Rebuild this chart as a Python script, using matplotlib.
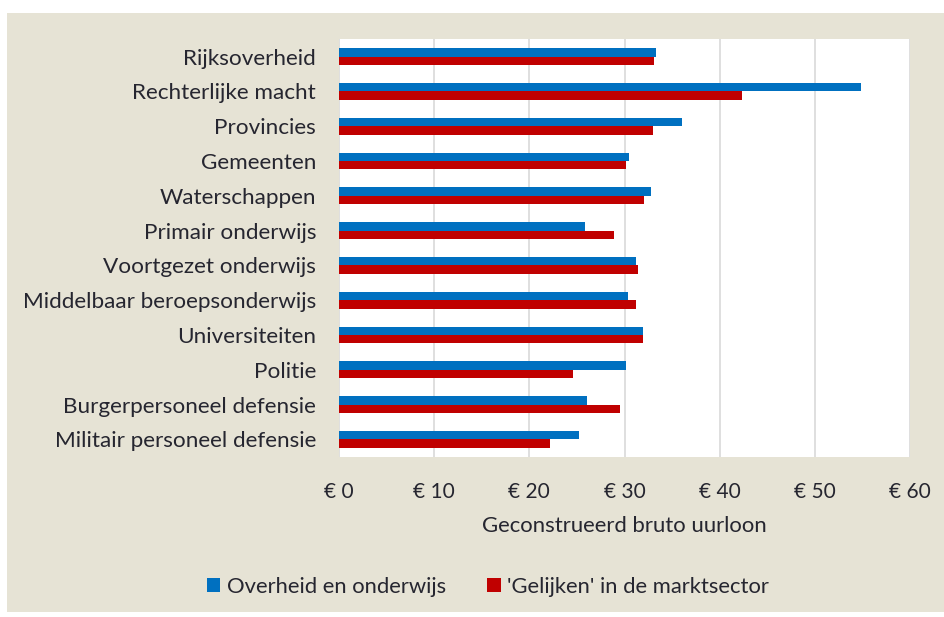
import matplotlib
matplotlib.use("Agg")
import matplotlib.pyplot as plt
from matplotlib.patches import Rectangle, Patch
import numpy as np

categories = ["Rijksoverheid", "Rechterlijke macht", "Provincies", "Gemeenten",
              "Waterschappen", "Primair onderwijs", "Voortgezet onderwijs",
              "Middelbaar beroepsonderwijs", "Universiteiten", "Politie",
              "Burgerpersoneel defensie", "Militair personeel defensie"]
overheid = [33.3, 54.9, 36.0, 30.5, 32.8, 25.8, 31.2, 30.4, 31.9, 30.2, 26.1, 25.2]
markt = [33.1, 42.3, 33.0, 30.2, 32.1, 28.9, 31.4, 31.2, 31.9, 24.6, 29.5, 22.2]
xticks = [0, 10, 20, 30, 40, 50, 60]
xticklabels = ["€ 0", "€ 10", "€ 20", "€ 30", "€ 40", "€ 50", "€ 60"]
series_names = ["Overheid en onderwijs", "'Gelijken' in de marktsector"]
xlabel = "Geconstrueerd bruto uurloon"

BLUE = "#0070C0"
RED = "#C00000"
BEIGE = "#E6E3D5"
TXT = "#262630"
FONT = ["Lato", "DejaVu Sans"]

plt.rcParams["font.family"] = FONT

fig = plt.figure(figsize=(9.45, 6.17), dpi=100, facecolor="white")
fig.patches.append(Rectangle((7 / 945, 1 - 612 / 617), 1 - 7 / 945, (612 - 13) / 617,
                             transform=fig.transFigure, facecolor=BEIGE,
                             edgecolor="none", zorder=-10))

ax = fig.add_axes([339 / 945, 1 - 456.7 / 617, (910 - 339) / 945, (456.7 - 39.3) / 617])
ax.set_zorder(5)
ax.set_facecolor("white")
y = np.arange(len(categories))
h = 0.24
ax.barh(y - h / 2, overheid, height=h, color=BLUE, zorder=3)
ax.barh(y + h / 2, markt, height=h, color=RED, zorder=3)
ax.set_ylim(len(categories) - 0.5, -0.5)
ax.set_xlim(0, 60)
ax.set_yticks(y)
ax.set_yticklabels(categories, fontsize=16.2, color=TXT)
ax.set_xticks(xticks)
ax.set_xticklabels(xticklabels, fontsize=15, color=TXT)
ax.tick_params(axis="y", length=0, pad=16.5)
ax.tick_params(axis="x", length=0, pad=18)
ax.grid(axis="x", color="#D9D9D9", linewidth=1.2, zorder=0)
for s in ax.spines.values():
    s.set_visible(False)
ax.set_xlabel(xlabel, fontsize=15.9, color=TXT, labelpad=10)

handles = [Patch(facecolor=BLUE), Patch(facecolor=RED)]
fig.legend(handles, series_names, loc="center", bbox_to_anchor=(488 / 945, 1 - 587 / 617),
           ncol=2, frameon=False, fontsize=15.8, handlelength=0.6, handleheight=0.6,
           handletextpad=0.3, columnspacing=1.9, labelcolor=TXT)

fig.savefig("out.png", dpi=100, facecolor="white")
